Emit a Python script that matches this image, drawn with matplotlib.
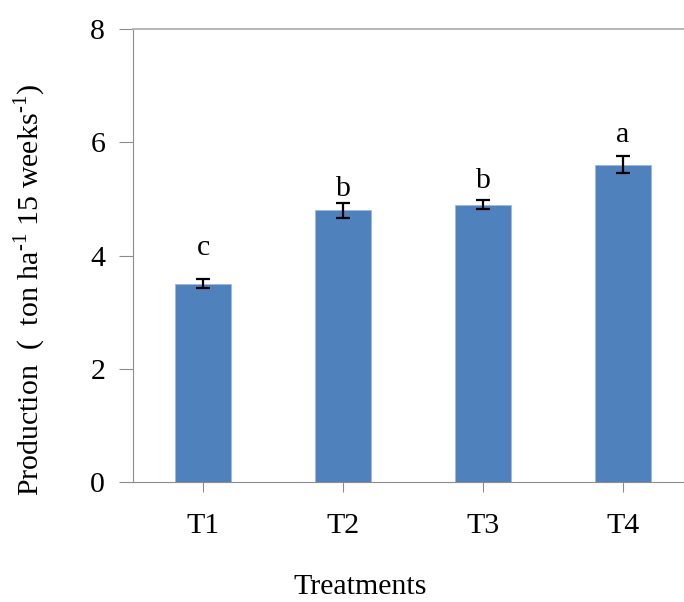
import numpy as np
import matplotlib.pyplot as plt

plt.rcParams['font.family'] = 'Liberation Serif'
plt.rcParams['mathtext.fontset'] = 'custom'
plt.rcParams['mathtext.rm'] = 'Liberation Serif'

treatments = ['T1', 'T2', 'T3', 'T4']
production = [3.5, 4.8, 4.9, 5.6]
std_err = [0.08, 0.13, 0.08, 0.15]
groups = ['c', 'b', 'b', 'a']
# gap between error bar top and the group letter baseline
letter_gap = [0.43, 0.12, 0.21, 0.26]

fig = plt.figure(figsize=(6.84, 6.02), dpi=100)
# plot area runs a little past the right edge
ax = fig.add_axes([133/684, 1 - 482/602, 560/684, 453/602])

x = np.arange(len(treatments))
ax.bar(x, production, width=0.4, color='#4F81BD', edgecolor='#9DB9DE', linewidth=0.6, zorder=2)
ax.errorbar(x, production, yerr=std_err, fmt='none', ecolor='black',
            elinewidth=1.6, capsize=4.8, capthick=1.6, zorder=3)

for xi, yi, e, g, gap in zip(x, production, std_err, groups, letter_gap):
    ax.text(xi, yi + e + gap, g, ha='center', va='baseline', fontsize=21.5)

ax.set_xlim(-0.5, 3.5)
ax.set_ylim(0, 8)
ax.set_yticks([0, 2, 4, 6, 8])
ax.set_xticks(x)
ax.set_xticklabels(treatments)

for side in ['left', 'bottom']:
    ax.spines[side].set_color('#8c8c8c')
ax.spines['top'].set_color('#b4b4b4')
ax.spines['top'].set_linewidth(1.4)
ax.spines['right'].set_visible(False)

ax.tick_params(axis='y', length=10, color='#8c8c8c', labelsize=21.5, pad=10)
ax.tick_params(axis='x', length=7, color='#8c8c8c', labelsize=21.5, pad=15)

fig.text(30/684, 1 - 290/602,
         r'Production  (  ton ha$^{\text{-1}}$ 15 weeks$^{\text{-1}}$)',
         rotation=90, ha='center', va='center', fontsize=21.5)
fig.text(360/684, 1 - 594/602, 'Treatments', ha='center', va='baseline', fontsize=21.5)

fig.savefig('out.png', dpi=100)
